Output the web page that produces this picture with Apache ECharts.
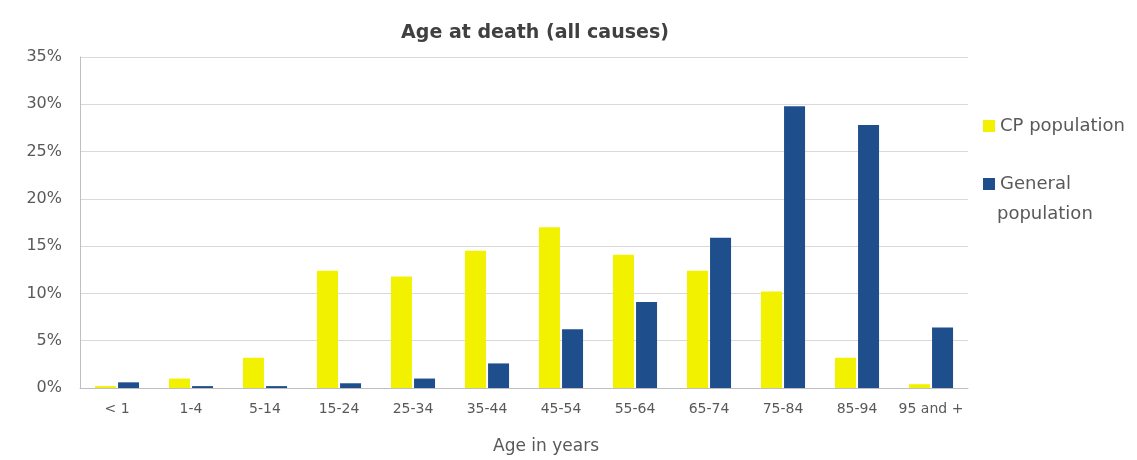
<!DOCTYPE html>
<html>
<head>
<meta charset="utf-8">
<script src="https://cdn.jsdelivr.net/npm/echarts@6/dist/echarts.min.js"></script>
<style>html,body{margin:0;padding:0;background:#fff;}#c{width:1137px;height:460px;}</style>
</head>
<body>
<div id="c"></div>
<script>
const categories = ['< 1','1-4','5-14','15-24','25-34','35-44','45-54','55-64','65-74','75-84','85-94','95 and +'];
const cpPopulation = [0.2, 1.0, 3.2, 12.4, 11.8, 14.5, 17.0, 14.1, 12.4, 10.2, 3.2, 0.4];
const generalPopulation = [0.6, 0.2, 0.2, 0.5, 1.0, 2.6, 6.2, 9.1, 15.9, 29.8, 27.8, 6.4];
const yTicks = [0, 5, 10, 15, 20, 25, 30, 35];

const chart = echarts.init(document.getElementById('c'));
const font = 'DejaVu Sans, sans-serif';
chart.setOption({
  animation: false,
  backgroundColor: '#ffffff',
  title: {
    text: 'Age at death (all causes)',
    left: 530, top: 19, textAlign: 'center',
    textStyle: {fontFamily: font, fontSize: 19, fontWeight: 'bold', color: '#404040'}
  },
  legend: [{
    orient: 'vertical', left: 978, top: 112,
    data: ['CP population'],
    itemWidth: 12, itemHeight: 12,
    textStyle: {fontFamily: font, fontSize: 18, color: '#595959'},
    icon: 'rect'
  }, {
    orient: 'vertical', left: 978, top: 170,
    data: ['General population'],
    formatter: () => 'General',
    itemWidth: 12, itemHeight: 12,
    textStyle: {fontFamily: font, fontSize: 18, color: '#595959'},
    icon: 'rect'
  }],
  graphic: [{
    type: 'text', left: 997, top: 205,
    style: {text: 'population', fontFamily: font, fontSize: 18, fill: '#595959'}
  }],
  grid: {left: 80, right: 169, top: 57, bottom: 71},
  xAxis: {
    type: 'category',
    data: categories,
    name: 'Age in years',
    nameLocation: 'middle',
    nameGap: 50,
    nameTextStyle: {fontFamily: font, fontSize: 17, color: '#595959', padding: [0, 0, 0, 44]},
    axisLine: {lineStyle: {color: '#bfbfbf', width: 1}},
    axisTick: {show: false},
    axisLabel: {fontFamily: font, fontSize: 14, color: '#595959', margin: 14, interval: 0}
  },
  yAxis: {
    type: 'value',
    min: 0, max: 35, interval: 5,
    axisLine: {show: true, lineStyle: {color: '#bfbfbf'}},
    axisTick: {show: false},
    axisLabel: {fontFamily: font, fontSize: 16, color: '#595959', margin: 18, formatter: v => yTicks.includes(v) ? v + '%' : ''},
    splitLine: {lineStyle: {color: '#d9d9d9', width: 1}}
  },
  series: [{
    name: 'CP population',
    type: 'bar',
    data: cpPopulation,
    barWidth: 21,
    barGap: '10%',
    itemStyle: {color: '#f2f200'}
  }, {
    name: 'General population',
    type: 'bar',
    data: generalPopulation,
    barWidth: 21,
    barGap: '10%',
    itemStyle: {color: '#1f4e8c'}
  }]
});
</script>
</body>
</html>
